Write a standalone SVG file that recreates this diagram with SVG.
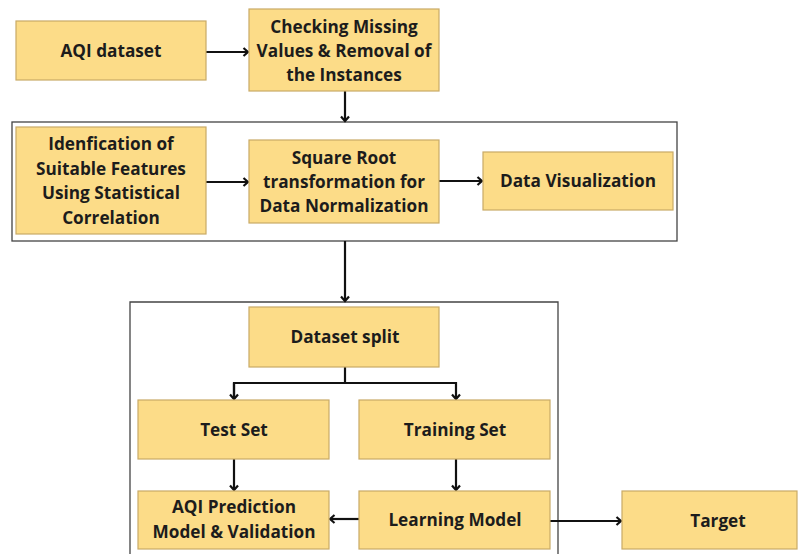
<svg xmlns="http://www.w3.org/2000/svg" width="799" height="554" viewBox="0 0 799 554">
<defs>
<style>
.box{fill:#FCDC88;stroke:#C9AA66;stroke-width:1.2}
.cont{fill:none;stroke:#444;stroke-width:1.3}
.t{font-family:"Open Sans","Liberation Sans",sans-serif;font-weight:bold;font-size:17.2px;fill:#1c1c1c;text-anchor:middle}
.c{fill:none;stroke:#111;stroke-width:2.2}
</style>
<marker id="ah" viewBox="0 0 10 10" refX="8.5" refY="5" markerWidth="10" markerHeight="10" orient="auto" markerUnits="userSpaceOnUse">
<path d="M4,1 L8.5,5 L4,9" fill="none" stroke="#111" stroke-width="2.2"/>
</marker>
</defs>
<rect width="799" height="554" fill="#fff"/>
<g id="containers">
<rect class="cont" x="12" y="122" width="665" height="119"/>
<path class="cont" d="M130,554 V302 H558 V554"/>
</g>
<g id="connectors">
<line class="c" x1="206" y1="52" x2="248" y2="52" marker-end="url(#ah)"/>
<line class="c" x1="345" y1="91" x2="345" y2="121" marker-end="url(#ah)"/>
<line class="c" x1="206" y1="182" x2="248" y2="182" marker-end="url(#ah)"/>
<line class="c" x1="439" y1="181" x2="482" y2="181" marker-end="url(#ah)"/>
<line class="c" x1="345" y1="241" x2="345" y2="301" marker-end="url(#ah)"/>
<path class="c" d="M345,367 V382"/>
<path class="c" d="M234,399 V383 H456 V399" marker-end="url(#ah)"/>
<path class="c" d="M234,383 V399" marker-end="url(#ah)"/>
<line class="c" x1="234" y1="459" x2="234" y2="490" marker-end="url(#ah)"/>
<line class="c" x1="456" y1="459" x2="456" y2="490" marker-end="url(#ah)"/>
<line class="c" x1="359" y1="519" x2="330" y2="519" marker-end="url(#ah)"/>
<line class="c" x1="550" y1="521" x2="621" y2="521" marker-end="url(#ah)"/>
</g>
<g id="aqi-dataset">
<rect class="box" x="16" y="21" width="190" height="59"/>
<text class="t" x="111" y="57">AQI dataset</text>
</g>
<g id="checking-missing">
<rect class="box" x="249" y="9" width="190" height="82"/>
<text class="t" x="344" y="33">Checking Missing</text>
<text class="t" x="344" y="57">Values &amp; Removal of</text>
<text class="t" x="344" y="81">the Instances</text>
</g>
<g id="identification">
<rect class="box" x="16" y="127" width="190" height="107"/>
<text class="t" x="111" y="150">Idenfication of</text>
<text class="t" x="111" y="175">Suitable Features</text>
<text class="t" x="111" y="199">Using Statistical</text>
<text class="t" x="111" y="224">Correlation</text>
</g>
<g id="square-root">
<rect class="box" x="249" y="140" width="190" height="83"/>
<text class="t" x="344" y="164">Square Root</text>
<text class="t" x="344" y="188">transformation for</text>
<text class="t" x="344" y="212">Data Normalization</text>
</g>
<g id="data-visualization">
<rect class="box" x="483" y="152" width="190" height="58"/>
<text class="t" x="578" y="187">Data Visualization</text>
</g>
<g id="dataset-split">
<rect class="box" x="249" y="307" width="190" height="60"/>
<text class="t" x="345" y="343">Dataset split</text>
</g>
<g id="test-set">
<rect class="box" x="138" y="400" width="191" height="59"/>
<text class="t" x="234" y="436">Test Set</text>
</g>
<g id="training-set">
<rect class="box" x="359" y="400" width="191" height="59"/>
<text class="t" x="455" y="436">Training Set</text>
</g>
<g id="aqi-prediction">
<rect class="box" x="138" y="491" width="191" height="58"/>
<text class="t" x="234" y="513">AQI Prediction</text>
<text class="t" x="234" y="538">Model &amp; Validation</text>
</g>
<g id="learning-model">
<rect class="box" x="359" y="491" width="191" height="58"/>
<text class="t" x="455" y="526">Learning Model</text>
</g>
<g id="target">
<rect class="box" x="622" y="491" width="175" height="58"/>
<text class="t" x="718" y="527">Target</text>
</g>
</svg>
